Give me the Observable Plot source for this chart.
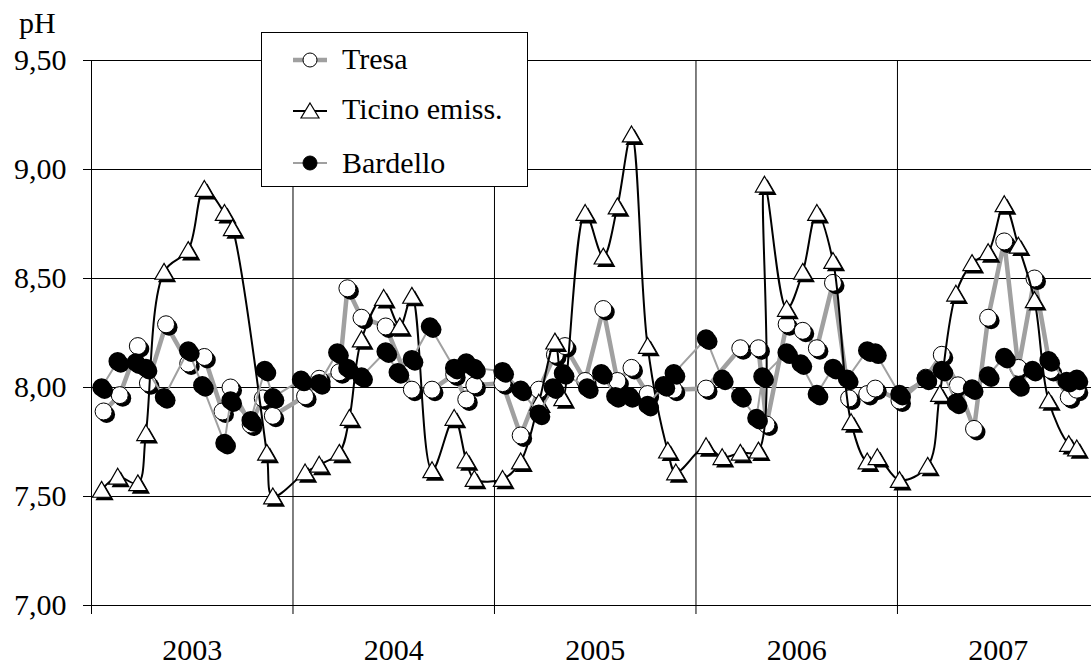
<!DOCTYPE html>
<html>
<head>
<meta charset="utf-8">
<script src="https://cdn.jsdelivr.net/npm/d3@7"></script>
<script src="https://cdn.jsdelivr.net/npm/@observablehq/plot@0.6"></script>
<style>
  html, body { margin: 0; padding: 0; background: white; }
  #wrap { position: relative; width: 1091px; height: 665px; overflow: hidden; font-family: 'Liberation Serif', 'DejaVu Serif', serif; }
  #overlay { position: absolute; left: 0; top: 0; pointer-events: none; }
  svg text { font-family: 'Liberation Serif', 'DejaVu Serif', serif !important; }
</style>
</head>
<body>
<div id="wrap"></div>
<script>
// ---- Data (decimal year of sample, pH) ----
const yTicks = [7.0, 7.5, 8.0, 8.5, 9.0, 9.5];
const years = [2003, 2004, 2005, 2006, 2007];

const tresaYear = [2003.06,2003.14,2003.23,2003.28,2003.37,2003.48,2003.56,2003.65,2003.69,2003.79,2003.85,2003.90,
  2004.06,2004.13,2004.23,2004.27,2004.34,2004.46,2004.59,2004.69,2004.80,2004.86,2004.90,
  2005.04,2005.13,2005.22,2005.30,2005.35,2005.45,2005.54,2005.61,2005.68,2005.76,2005.89,
  2006.05,2006.22,2006.31,2006.35,2006.45,2006.53,2006.60,2006.68,2006.76,2006.85,2006.89,
  2007.01,2007.14,2007.22,2007.30,2007.38,2007.45,2007.53,2007.60,2007.68,2007.76,2007.85,2007.89];
const tresaPH = [7.89,7.965,8.19,8.02,8.29,8.11,8.14,7.89,8.00,7.83,7.95,7.87,
  7.96,8.04,8.07,8.455,8.32,8.28,7.99,7.99,8.06,7.945,8.01,
  8.02,7.78,7.99,8.15,8.19,8.03,8.36,8.03,8.09,7.97,7.99,
  7.995,8.18,8.18,7.83,8.29,8.26,8.18,8.48,7.95,7.97,7.995,
  7.94,8.045,8.15,8.01,7.81,8.32,8.67,8.09,8.50,8.08,7.955,7.99];

const ticinoYear = [2003.05,2003.13,2003.23,2003.27,2003.36,2003.48,2003.56,2003.66,2003.70,2003.87,2003.90,
  2004.06,2004.13,2004.23,2004.28,2004.34,2004.45,2004.53,2004.59,2004.69,2004.80,2004.86,2004.90,
  2005.04,2005.13,2005.22,2005.30,2005.34,2005.45,2005.54,2005.61,2005.68,2005.76,2005.86,2005.90,
  2006.05,2006.13,2006.22,2006.31,2006.34,2006.45,2006.53,2006.60,2006.68,2006.77,2006.85,2006.90,
  2007.01,2007.15,2007.21,2007.29,2007.37,2007.45,2007.53,2007.60,2007.68,2007.75,2007.85,2007.89];
const ticinoPH = [7.53,7.59,7.56,7.79,8.53,8.63,8.91,8.80,8.73,7.70,7.50,
  7.61,7.645,7.70,7.86,8.22,8.41,8.28,8.42,7.62,7.86,7.665,7.58,
  7.58,7.66,7.93,8.21,7.95,8.80,8.60,8.83,9.16,8.19,7.71,7.61,
  7.73,7.68,7.70,7.71,8.93,8.36,8.53,8.80,8.58,7.84,7.66,7.68,
  7.575,7.64,7.97,8.43,8.57,8.62,8.84,8.65,8.40,7.94,7.74,7.72];

const bardelloYear = [2003.05,2003.13,2003.22,2003.27,2003.36,2003.48,2003.55,2003.66,2003.69,2003.79,2003.86,2003.90,
  2004.04,2004.13,2004.22,2004.27,2004.34,2004.46,2004.52,2004.59,2004.68,2004.80,2004.86,2004.90,
  2005.04,2005.13,2005.22,2005.29,2005.34,2005.46,2005.53,2005.60,2005.67,2005.76,2005.84,2005.89,
  2006.05,2006.13,2006.22,2006.30,2006.33,2006.45,2006.52,2006.60,2006.68,2006.75,2006.85,2006.89,
  2007.01,2007.14,2007.22,2007.29,2007.37,2007.45,2007.53,2007.60,2007.67,2007.75,2007.84,2007.89];
const bardelloPH = [8.00,8.12,8.115,8.09,7.955,8.17,8.01,7.745,7.94,7.85,8.08,7.955,
  8.035,8.02,8.16,8.09,8.05,8.165,8.07,8.13,8.28,8.09,8.115,8.09,
  8.075,7.99,7.88,8.00,8.065,8.00,8.065,7.96,7.96,7.92,8.01,8.065,
  8.225,8.04,7.96,7.86,8.05,8.16,8.11,7.97,8.09,8.04,8.17,8.16,
  7.97,8.04,8.08,7.93,7.995,8.055,8.14,8.01,8.08,8.125,8.03,8.04];

const seriesNames = ["Tresa", "Ticino emiss.", "Bardello"];

// ---- Build tables ----
const toRows = (xs, ys) => xs.map((t, i) => ({t, ph: ys[i]}));
const tresa = toRows(tresaYear, tresaPH);
const ticino = toRows(ticinoYear, ticinoPH);
const bardello = toRows(bardelloYear, bardelloPH);

const grayLine = "#a0a0a0";
const serif = "'Liberation Serif', 'DejaVu Serif', serif";
const fmt = d => d.toFixed(2).replace(".", ",");

const chart = Plot.plot({
  width: 1091,
  height: 665,
  marginTop: 60,
  marginBottom: 60,
  marginLeft: 91,
  marginRight: 0,
  x: {domain: [2003, 2007.963], axis: null},
  y: {domain: [7, 9.5], axis: null},
  style: {
    fontFamily: serif,
    fontSize: "30px",
    background: "white",
    color: "black",
    overflow: "visible"
  },
  marks: [
    Plot.ruleY(yTicks, {stroke: "black", strokeWidth: 1}),
    Plot.ruleX(years, {stroke: "black", strokeWidth: 1}),
    Plot.axisY({ticks: yTicks, tickSize: 8, tickPadding: 17, tickFormat: fmt, label: null, strokeOpacity: 1, fontFamily: serif}),
    Plot.axisX({ticks: years, tickSize: 9, tickFormat: () => "", label: null, strokeOpacity: 1}),
    Plot.axisX({ticks: years.map(y => y + 0.5), tickSize: 0, tickPadding: 33, tickFormat: d => String(Math.floor(d)), label: null, fontFamily: serif}),

    // Tresa
    Plot.line(tresa, {x: "t", y: "ph", stroke: grayLine, strokeWidth: 4.5}),
    Plot.dot(tresa, {x: "t", y: "ph", r: 8.5, fill: "black", dx: 3, dy: 3}),
    Plot.dot(tresa, {x: "t", y: "ph", r: 8.5, fill: "white", stroke: "black", strokeWidth: 1}),

    // Ticino emissario
    Plot.line(ticino, {x: "t", y: "ph", stroke: "black", strokeWidth: 2, curve: "catmull-rom"}),
    Plot.dot(ticino, {x: "t", y: "ph", symbol: "triangle", r: 6.8, fill: "black", dx: 3, dy: 5}),
    Plot.dot(ticino, {x: "t", y: "ph", symbol: "triangle", r: 6.8, fill: "white", stroke: "black", strokeWidth: 1.2, dy: 2}),

    // Bardello
    Plot.line(bardello, {x: "t", y: "ph", stroke: grayLine, strokeWidth: 2}),
    Plot.dot(bardello, {x: "t", y: "ph", r: 8.5, fill: "black", dx: 3, dy: 3}),
    Plot.dot(bardello, {x: "t", y: "ph", r: 8.5, fill: "black", stroke: "black"})
  ]
});

const wrap = document.getElementById("wrap");
wrap.appendChild(chart);

// ---- Overlay: "pH" label and legend ----
const ov = d3.select(wrap).append("svg")
  .attr("id", "overlay").attr("width", 1091).attr("height", 665)
  .attr("font-family", serif);

ov.append("text").attr("x", 19).attr("y", 33).attr("font-size", 30).attr("font-family", serif).attr("fill", "black").text("pH");

const lg = ov.append("g");
lg.append("rect").attr("x", 261.5).attr("y", 32.5).attr("width", 266).attr("height", 154)
  .attr("fill", "white").attr("stroke", "black").attr("stroke-width", 1);

const rows = [
  {name: seriesNames[0], y: 60, base: 69, stroke: grayLine, sw: 4.5, sym: "circle", fill: "white"},
  {name: seriesNames[1], y: 111, base: 119, stroke: "black", sw: 2, sym: "triangle", fill: "white"},
  {name: seriesNames[2], y: 163, base: 173, stroke: grayLine, sw: 2, sym: "circle", fill: "black"}
];
for (const r of rows) {
  lg.append("line").attr("x1", 293).attr("x2", 327).attr("y1", r.y).attr("y2", r.y)
    .attr("stroke", r.stroke).attr("stroke-width", r.sw);
  if (r.sym === "circle") {
    lg.append("circle").attr("cx", 310).attr("cy", r.y).attr("r", 7)
      .attr("fill", r.fill).attr("stroke", "black").attr("stroke-width", 1);
  } else {
    lg.append("path").attr("d", `M310,${r.y - 8}L319,${r.y + 7}L301,${r.y + 7}Z`)
      .attr("fill", "white").attr("stroke", "black").attr("stroke-width", 1.2);
  }
  lg.append("text").attr("x", 342).attr("y", r.base).attr("font-size", 30).attr("font-family", serif).attr("fill", "black").text(r.name);
}
</script>
</body>
</html>
